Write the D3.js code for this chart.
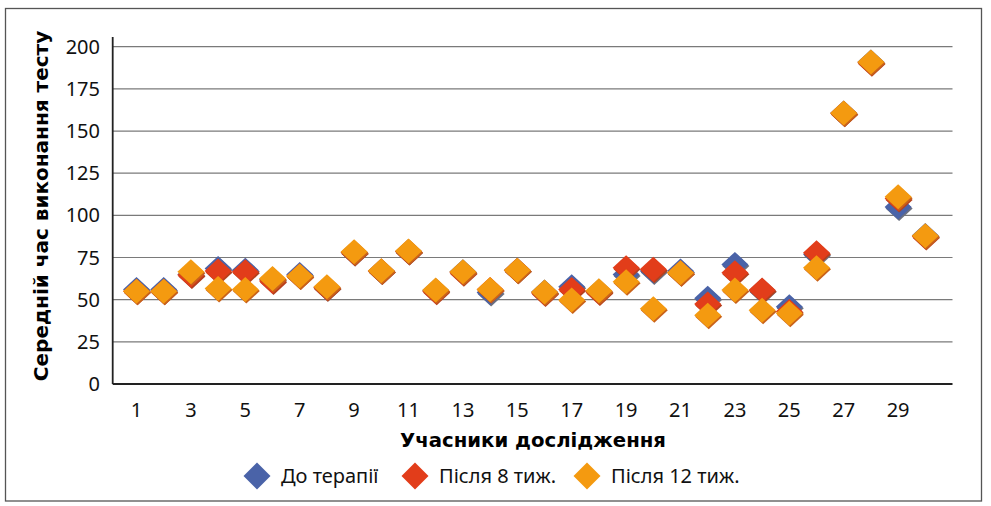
<!DOCTYPE html>
<html>
<head>
<meta charset="utf-8">
<script src="https://cdn.jsdelivr.net/npm/d3@7"></script>
<style>
  body { margin: 0; background: #fff; }
  svg { display: block; }
</style>
</head>
<body>
<div id="chart"></div>
<script>
// participants 1..30
var participants = d3.range(1, 31);
var seriesNames = ["До терапії", "Після 8 тиж.", "Після 12 тиж."];
var seriesColors = ["#4a63a8", "#e23d1a", "#f49a10"];
var shadowColors = ["#6b7080", "#b5401e", "#c9621a"];

var beforeTherapy = [56,56,65,68.5,67.5,62,65,57,78,67,78.5,55.5,66.5,54.3,67.5,54.5,57.6,55,65,67,67,50.8,70.9,55.5,45.8,77,160.7,190.9,105,88];
var after8 = [55,55,64.6,67,66.5,61,64,57,78,67,78.5,55,66,56,67.5,54,56,54.5,68.9,68,66,47.4,66,55.7,43,77.8,160.5,190.5,110,87.5];
var after12 = [55,55,66.5,56.7,56,62.6,64,57.6,78.4,67.1,78.8,55.7,66.5,56,67.5,54.5,49.8,55.3,60.6,44.6,66,40.7,55.7,43.8,41.9,68.9,160.7,190.9,111,87.9];

var yTicks = [0, 25, 50, 75, 100, 125, 150, 175, 200];
var xTicks = [1,3,5,7,9,11,13,15,17,19,21,23,25,27,29];

var width = 991, height = 506;
var plotLeft = 112.7, plotRight = 952.5;

var svg = d3.select("#chart").append("svg")
    .attr("width", width)
    .attr("height", height);

// outer frame
svg.append("rect")
    .attr("x", 5.5).attr("y", 8.5)
    .attr("width", 976).attr("height", 492.5)
    .attr("fill", "none")
    .attr("stroke", "#555")
    .attr("stroke-width", 1.3);

var xScale = d3.scaleLinear().domain([0, 31]).range([109.3, 952.5]);
var yScale = d3.scaleLinear().domain([0, 200]).range([384, 46.7]);

// gridlines
svg.append("g")
    .selectAll("line")
    .data(yTicks.filter(d => d > 0))
    .join("line")
    .attr("x1", plotLeft)
    .attr("x2", plotRight)
    .attr("y1", d => yScale(d))
    .attr("y2", d => yScale(d))
    .attr("stroke", "#7a7a7a")
    .attr("stroke-width", 1.2);

// axes lines
svg.append("line")
    .attr("x1", plotLeft).attr("x2", plotLeft)
    .attr("y1", 37).attr("y2", yScale(0))
    .attr("stroke", "#222").attr("stroke-width", 1.8);
svg.append("line")
    .attr("x1", plotLeft).attr("x2", plotRight)
    .attr("y1", yScale(0)).attr("y2", yScale(0))
    .attr("stroke", "#222").attr("stroke-width", 1.8);

var tickFont = "'Noto Sans', sans-serif";

// y tick labels
svg.append("g")
    .selectAll("text")
    .data(yTicks)
    .join("text")
    .attr("x", 100)
    .attr("y", d => yScale(d))
    .attr("dy", "0.35em")
    .attr("text-anchor", "end")
    .attr("font-family", tickFont)
    .attr("font-size", 20)
    .attr("fill", "#111")
    .text(d => d);

// x tick labels
svg.append("g")
    .selectAll("text")
    .data(xTicks)
    .join("text")
    .attr("x", d => xScale(d))
    .attr("y", 410)
    .attr("dy", "0.35em")
    .attr("text-anchor", "middle")
    .attr("font-family", tickFont)
    .attr("font-size", 20)
    .attr("fill", "#111")
    .text(d => d);

// axis titles
svg.append("text")
    .attr("x", 533)
    .attr("y", 447)
    .attr("text-anchor", "middle")
    .attr("font-family", "'DejaVu Sans', sans-serif")
    .attr("font-weight", "bold")
    .attr("font-size", 19.7)
    .attr("fill", "#000")
    .text("Учасники дослідження");

svg.append("text")
    .attr("x", 41)
    .attr("y", 206)
    .attr("dy", "0.35em")
    .attr("text-anchor", "middle")
    .attr("transform", "rotate(-90,41,206)")
    .attr("font-family", "'DejaVu Sans', sans-serif")
    .attr("font-weight", "bold")
    .attr("font-size", 20)
    .attr("fill", "#000")
    .text("Середній час виконання тесту");

function diamond(hw, hh) {
    return "M0," + (-hh) + "L" + hw + ",0L0," + hh + "L" + (-hw) + ",0Z";
}

var allSeries = [beforeTherapy, after8, after12];

allSeries.forEach(function(values, i) {
    var g = svg.append("g");
    g.selectAll("path.shadow")
        .data(values)
        .join("path")
        .attr("class", "shadow")
        .attr("d", diamond(13.5, 12.5))
        .attr("transform", (d, j) => "translate(" + (xScale(participants[j]) + 1) + "," + (yScale(d) + 1.5) + ")")
        .attr("fill", shadowColors[i]);
    g.selectAll("path.mark")
        .data(values)
        .join("path")
        .attr("class", "mark")
        .attr("d", diamond(13.5, 12.5))
        .attr("transform", (d, j) => "translate(" + xScale(participants[j]) + "," + yScale(d) + ")")
        .attr("fill", seriesColors[i]);
});

// legend
var legendX = [257, 415, 587];
var legend = svg.append("g")
    .selectAll("g")
    .data(seriesNames)
    .join("g")
    .attr("transform", (d, i) => "translate(" + legendX[i] + ",476)");
legend.append("path")
    .attr("d", diamond(13.5, 13.5))
    .attr("fill", (d, i) => seriesColors[i]);
legend.append("text")
    .attr("x", 24)
    .attr("dy", "0.35em")
    .attr("font-family", tickFont)
    .attr("font-size", 20)
    .attr("fill", "#111")
    .text(d => d);
</script>
</body>
</html>
